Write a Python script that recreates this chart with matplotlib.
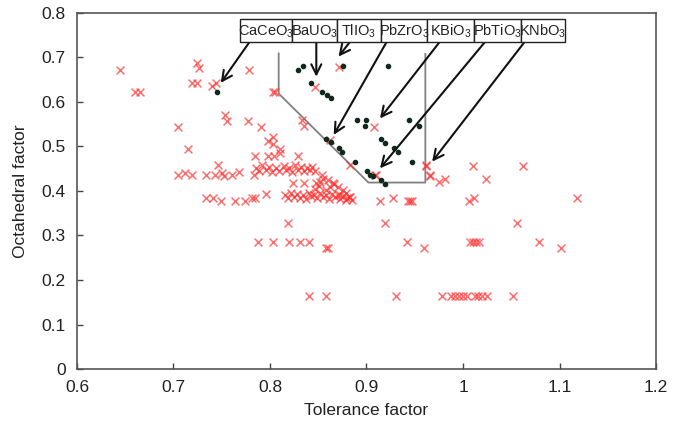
import matplotlib
matplotlib.use('AGG')

import numpy as np
import matplotlib.pyplot as plt
from matplotlib.patches import Rectangle

plt.rcParams['font.family'] = ['Liberation Sans', 'DejaVu Sans']
plt.rcParams['mathtext.default'] = 'regular'

# Red crosses (tolerance factor, octahedral factor)
cross_t = [0.645, 0.660, 0.665,
           0.724, 0.726, 0.719, 0.724, 0.740, 0.744,
           0.778, 0.803, 0.805, 0.847, 0.872,
           0.705, 0.715, 0.753, 0.755, 0.777, 0.791, 0.833, 0.835,
           0.908, 0.862, 0.798, 0.803, 0.803, 0.810,
           0.784, 0.798, 0.804, 0.810, 0.829, 0.746,
           0.705, 0.712, 0.719, 0.734, 0.743, 0.750, 0.752, 0.761, 0.768, 0.783,
           0.786, 0.789, 0.792, 0.796, 0.799, 0.802, 0.806, 0.809, 0.814, 0.817,
           0.820, 0.823, 0.826, 0.829, 0.832, 0.835, 0.838, 0.841, 0.844, 0.847,
           0.883, 0.909, 0.910, 0.962, 0.962, 0.966, 0.966, 0.975, 0.981, 1.010, 1.062, 1.024,
           0.824, 0.835, 0.848, 0.852, 0.855, 0.854, 0.866,
           0.876, 0.879, 0.883, 0.873, 0.880, 0.870, 0.865, 0.860,
           0.734, 0.741, 0.749, 0.764, 0.774, 0.781, 0.784, 0.796,
           0.816, 0.819, 0.822, 0.825, 0.828, 0.831, 0.834, 0.837, 0.840, 0.843,
           0.846, 0.849, 0.852, 0.855, 0.858, 0.861, 0.864, 0.867, 0.870, 0.873,
           0.876, 0.879, 0.882, 0.885, 0.847, 0.851, 0.858, 0.862,
           0.914, 0.927, 0.943, 0.945, 0.947, 1.006, 1.011, 1.118,
           0.819, 0.919, 1.056,
           0.788, 0.803, 0.820, 0.831, 0.840, 0.942, 1.007, 1.010, 1.013, 1.017, 1.079,
           0.858, 0.860, 0.960, 1.102,
           0.840, 0.858, 0.931, 0.978, 0.988, 0.992, 0.996, 1.000, 1.004,
           1.012, 1.016, 1.020, 1.025, 1.052]
cross_o = [0.672, 0.622, 0.622,
           0.687, 0.676, 0.642, 0.642, 0.635, 0.642,
           0.672, 0.622, 0.622, 0.634, 0.679,
           0.543, 0.494, 0.571, 0.558, 0.558, 0.543, 0.560, 0.546,
           0.543, 0.515, 0.513, 0.521, 0.505, 0.494,
           0.479, 0.479, 0.479, 0.485, 0.479, 0.458,
           0.436, 0.441, 0.436, 0.436, 0.436, 0.441, 0.434, 0.436, 0.443, 0.436,
           0.452, 0.444, 0.458, 0.447, 0.455, 0.443, 0.452, 0.446, 0.456, 0.447,
           0.452, 0.443, 0.458, 0.448, 0.454, 0.444, 0.452, 0.447, 0.455, 0.446,
           0.458, 0.436, 0.436, 0.458, 0.456, 0.436, 0.434, 0.421, 0.428, 0.457, 0.457, 0.428,
           0.417, 0.417, 0.418, 0.421, 0.428, 0.436, 0.416,
           0.402, 0.395, 0.387, 0.392, 0.385, 0.410, 0.418, 0.425,
           0.384, 0.384, 0.378, 0.378, 0.378, 0.384, 0.384, 0.393,
           0.392, 0.384, 0.396, 0.387, 0.393, 0.385, 0.391, 0.383, 0.395, 0.388,
           0.392, 0.384, 0.396, 0.387, 0.391, 0.383, 0.394, 0.386, 0.392, 0.382,
           0.389, 0.380, 0.387, 0.379, 0.405, 0.412, 0.403, 0.410,
           0.378, 0.385, 0.378, 0.378, 0.378, 0.378, 0.385, 0.385,
           0.328, 0.329, 0.329,
           0.285, 0.285, 0.285, 0.285, 0.285, 0.286, 0.286, 0.286, 0.286, 0.286, 0.286,
           0.271, 0.271, 0.271, 0.271,
           0.165, 0.165, 0.165, 0.165, 0.165, 0.165, 0.165, 0.165, 0.165,
           0.165, 0.165, 0.165, 0.165, 0.165]

# Dark dots
dot_t = [0.745, 0.829, 0.834, 0.876, 0.922, 0.842, 0.854, 0.859, 0.863,
         0.890, 0.900, 0.898, 0.944, 0.954, 0.858, 0.863, 0.871, 0.875,
         0.915, 0.919, 0.929, 0.933, 0.888, 0.947, 0.901, 0.904, 0.907, 0.915, 0.919]
dot_o = [0.623, 0.673, 0.681, 0.681, 0.681, 0.643, 0.623, 0.616, 0.608,
         0.560, 0.560, 0.545, 0.560, 0.545, 0.516, 0.510, 0.496, 0.488,
         0.516, 0.507, 0.496, 0.488, 0.466, 0.466, 0.445, 0.436, 0.434, 0.425, 0.416]

# Labelled compounds and the points their arrows point at
names = ['CaCeO$_3$', 'BaUO$_3$', 'TlIO$_3$', 'PbZrO$_3$', 'KBiO$_3$', 'PbTiO$_3$', 'KNbO$_3$']
target_t = [0.749, 0.848, 0.871, 0.866, 0.914, 0.914, 0.968]
target_o = [0.643, 0.657, 0.702, 0.526, 0.563, 0.451, 0.466]

# Region outline
region_t = [0.809, 0.809, 0.902, 0.961, 0.961]
region_o = [0.709, 0.619, 0.419, 0.419, 0.708]

fig = plt.figure(figsize=(6.83, 4.26), dpi=100)
ax = fig.add_axes([0.1127, 0.1338, 0.8478, 0.8357])

ax.plot(region_t, region_o, color='#808080', lw=1.3, zorder=1)
ax.scatter(cross_t, cross_o, marker='x', s=32, color='#ff3030', alpha=0.7, linewidths=1.1, zorder=2)
ax.scatter(dot_t, dot_o, marker='o', s=9, color='#0e2a1c', zorder=3)

# label boxes along the top
edges = [0.769, 0.823, 0.869, 0.915, 0.963, 1.011, 1.060, 1.106]
box_lo, box_hi = 0.7355, 0.786
starts = [0.779, 0.848, 0.883, 0.921, 0.976, 1.023, 1.064]
for i, name in enumerate(names):
    ax.add_patch(Rectangle((edges[i], box_lo), edges[i+1]-edges[i], box_hi-box_lo,
                           facecolor='white', edgecolor='#222222', lw=1.0, zorder=5))
    ax.text((edges[i]+edges[i+1])/2, (box_lo+box_hi)/2 - 0.002, name, ha='center', va='center',
            fontsize=10.5, color='#222222', zorder=6)
    ax.annotate('', xy=(target_t[i], target_o[i]), xytext=(starts[i], box_lo),
                arrowprops=dict(arrowstyle='->', lw=1.5, color='#111111', mutation_scale=18,
                                shrinkA=0, shrinkB=0), zorder=4)

ax.set_xlim(0.6, 1.2)
ax.set_ylim(0, 0.8)
ax.set_xticks([0.6, 0.7, 0.8, 0.9, 1.0, 1.1, 1.2])
ax.set_xticklabels(['0.6', '0.7', '0.8', '0.9', '1', '1.1', '1.2'])
ax.set_yticks([0, 0.1, 0.2, 0.3, 0.4, 0.5, 0.6, 0.7, 0.8])
ax.set_yticklabels(['0', '0.1', '0.2', '0.3', '0.4', '0.5', '0.6', '0.7', '0.8'])
ax.tick_params(direction='in', length=4, width=1, color='#444444', labelsize=12.5,
               labelcolor='#222222', pad=8)
for s in ax.spines.values():
    s.set_color('#555555')
    s.set_linewidth(1.2)
ax.set_xlabel('Tolerance factor', fontsize=12.5, color='#222222', labelpad=6)
ax.set_ylabel('Octahedral factor', fontsize=12.5, color='#222222', labelpad=10)

plt.savefig('out.png', dpi=100)
